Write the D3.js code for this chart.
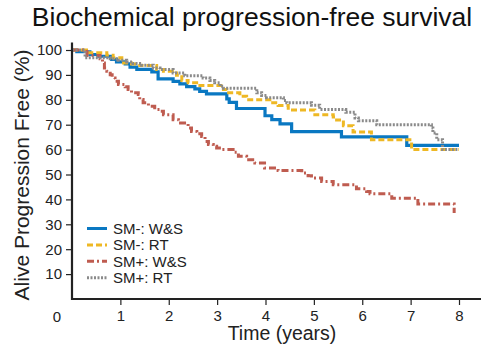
<!DOCTYPE html>
<html>
<head>
<meta charset="utf-8">
<script src="https://cdn.jsdelivr.net/npm/d3@7"></script>
<style>
  body { margin: 0; background: #fff; }
  svg { font-family: "Liberation Sans", Arial, sans-serif; }
</style>
</head>
<body>
<svg id="chart" width="481" height="350"></svg>
<script>
// series: [years, % alive progression free]
const smNegWS = [
  [0, 100], [0.1, 99.3], [0.37, 98.2], [0.54, 97.5], [0.82, 96.2], [0.92, 95.2],
  [1.10, 94.4], [1.20, 93.1], [1.34, 92.2], [1.65, 91.2], [1.78, 88.4], [2.09, 87.4],
  [2.23, 86.4], [2.37, 85.3], [2.54, 84.4], [2.64, 83.4], [2.78, 82.4], [3.20, 80.4],
  [3.25, 79], [3.40, 76.5], [3.99, 73.6], [4.13, 72], [4.30, 70.3], [4.54, 67.2],
  [5.57, 65.1], [6.92, 61.7], [8.0, 61.7]
];
const smNegRT = [
  [0, 100], [0.30, 98.9], [0.72, 97.9], [0.85, 96.9], [1.03, 94.8], [1.23, 94.4],
  [1.40, 93.8], [1.75, 92.2], [1.89, 91.5], [2.16, 89.9], [2.27, 87.8], [2.40, 86.8],
  [2.61, 85.7], [3.13, 84.1], [3.20, 82.8], [3.47, 81.4], [3.61, 80.0], [4.09, 78.8],
  [4.26, 77.7], [4.47, 75.9], [5.02, 74], [5.40, 73.1], [5.47, 71.9], [5.61, 69.6],
  [5.81, 67.1], [6.19, 64], [7.02, 60], [8.0, 60]
];
const smPosWS = [
  [0, 100], [0.31, 97.8], [0.58, 96.5], [0.63, 94.8], [0.67, 92.8], [0.72, 91.5],
  [0.79, 90.1], [0.83, 88.8], [0.89, 87.4], [0.96, 86.1], [1.10, 85.2], [1.16, 84.1],
  [1.23, 82.8], [1.37, 82.1], [1.40, 80.1], [1.47, 78.8], [1.58, 77.4], [1.71, 76.1],
  [1.82, 75.4], [1.89, 74], [2.09, 72], [2.20, 70.7], [2.40, 68.7], [2.47, 67.3],
  [2.58, 66.4], [2.68, 65.3], [2.75, 63.3], [2.82, 62], [2.92, 61.3], [2.99, 60.6],
  [3.09, 60], [3.33, 58.9], [3.44, 57.3], [3.61, 55.9], [3.78, 54.6], [3.98, 52.6],
  [4.26, 51.6], [4.75, 50.6], [4.88, 49.5], [4.95, 48.6], [5.16, 47.2], [5.40, 45.9],
  [5.88, 44.3], [6.09, 43.2], [6.16, 42.3], [6.61, 40.5], [7.15, 38.2], [7.90, 38.2],
  [7.90, 34.5]
];
const smPosRT = [
  [0, 100], [0.27, 96.9], [0.79, 96.5], [0.95, 95.9], [1.13, 95.2], [1.26, 94.6],
  [1.44, 93.9], [1.68, 92.8], [1.82, 92.2], [2.09, 90.8], [2.33, 89.7], [2.71, 88.8],
  [2.85, 87.8], [2.95, 86.8], [3.06, 85.4], [3.13, 84.6], [3.82, 82.8], [3.92, 81.7],
  [4.02, 80.8], [4.37, 79.7], [4.44, 78.8], [4.95, 77.8], [5.12, 76.1], [5.66, 75],
  [5.85, 72.7], [5.92, 71.6], [6.30, 70], [7.43, 68.7], [7.46, 66.7], [7.54, 64],
  [7.66, 60], [7.98, 60]
];

const seriesNames = ["SM-: W&S", "SM-: RT", "SM+: W&S", "SM+: RT"];
const xTicks = [1, 2, 3, 4, 5, 6, 7, 8];
const yTicks = [10, 20, 30, 40, 50, 60, 70, 80, 90, 100];

const series = [
  { name: seriesNames[0], data: smNegWS, color: "#0a78c2", dash: null, w: 3.2 },
  { name: seriesNames[1], data: smNegRT, color: "#eeb824", dash: "6,3", w: 3 },
  { name: seriesNames[2], data: smPosWS, color: "#bf5c50", dash: "7,3,2,3", w: 3 },
  { name: seriesNames[3], data: smPosRT, color: "#8a8a8a", dash: "2,1.5", w: 3 }
];

const svg = d3.select("#chart");

const x = d3.scaleLinear().domain([0, 8]).range([72, 459]);
const y = d3.scaleLinear().domain([0, 100]).range([299, 50]);

// Titulo
svg.append("text")
  .attr("x", 252).attr("y", 26)
  .attr("text-anchor", "middle")
  .attr("font-size", 26.5)
  .attr("fill", "#111")
  .text("Biochemical progression-free survival");

// Curvas
const line = d3.line()
  .x(d => x(d[0]))
  .y(d => y(d[1]))
  .curve(d3.curveStepAfter);

series.forEach(s => {
  svg.append("path")
    .datum(s.data)
    .attr("d", line)
    .attr("fill", "none")
    .attr("stroke", s.color)
    .attr("stroke-width", s.w)
    .attr("stroke-dasharray", s.dash);
});

// Ejes
const xAxis = svg.append("g")
  .attr("transform", `translate(0,${y(0)})`)
  .call(d3.axisBottom(x).tickValues(xTicks).tickSize(6).tickSizeOuter(0).tickPadding(5));
xAxis.select(".domain").attr("d", `M${x(0)},0H481`);

const yAxis = svg.append("g")
  .attr("transform", `translate(${x(0)},0)`)
  .call(d3.axisLeft(y).tickValues(yTicks).tickSize(6).tickSizeOuter(0).tickPadding(4));
yAxis.select(".domain").attr("d", `M0,${y(0) + 1}V${y(103)}`);

[xAxis, yAxis].forEach(g => {
  g.select(".domain").attr("stroke", "#222").attr("stroke-width", 2.2);
  g.selectAll(".tick line").attr("stroke", "#222").attr("stroke-width", 1.2);
  g.selectAll(".tick text")
    .attr("font-size", 15)
    .attr("fill", "#222")
    .attr("font-family", "Liberation Sans, Arial, sans-serif");
});

// origen
svg.append("text")
  .attr("x", 57).attr("y", 322)
  .attr("text-anchor", "middle")
  .attr("font-size", 15)
  .attr("fill", "#222")
  .text("0");

svg.append("text")
  .attr("x", 282).attr("y", 340)
  .attr("text-anchor", "middle")
  .attr("font-size", 19.5)
  .attr("fill", "#222")
  .text("Time (years)");

svg.append("text")
  .attr("transform", `translate(29,175) rotate(-90)`)
  .attr("text-anchor", "middle")
  .attr("font-size", 21)
  .attr("fill", "#222")
  .text("Alive Progression Free (%)");

// Leyenda
const legend = svg.append("g");
series.forEach((s, i) => {
  const ly = 228.5 + i * 16.4;
  legend.append("line")
    .attr("x1", 87).attr("x2", 107)
    .attr("y1", ly).attr("y2", ly)
    .attr("stroke", s.color)
    .attr("stroke-width", 3)
    .attr("stroke-dasharray", s.dash);
  legend.append("text")
    .attr("x", 113).attr("y", ly + 5.5)
    .attr("font-size", 15)
    .attr("fill", "#222")
    .text(s.name);
});
</script>
</body>
</html>
